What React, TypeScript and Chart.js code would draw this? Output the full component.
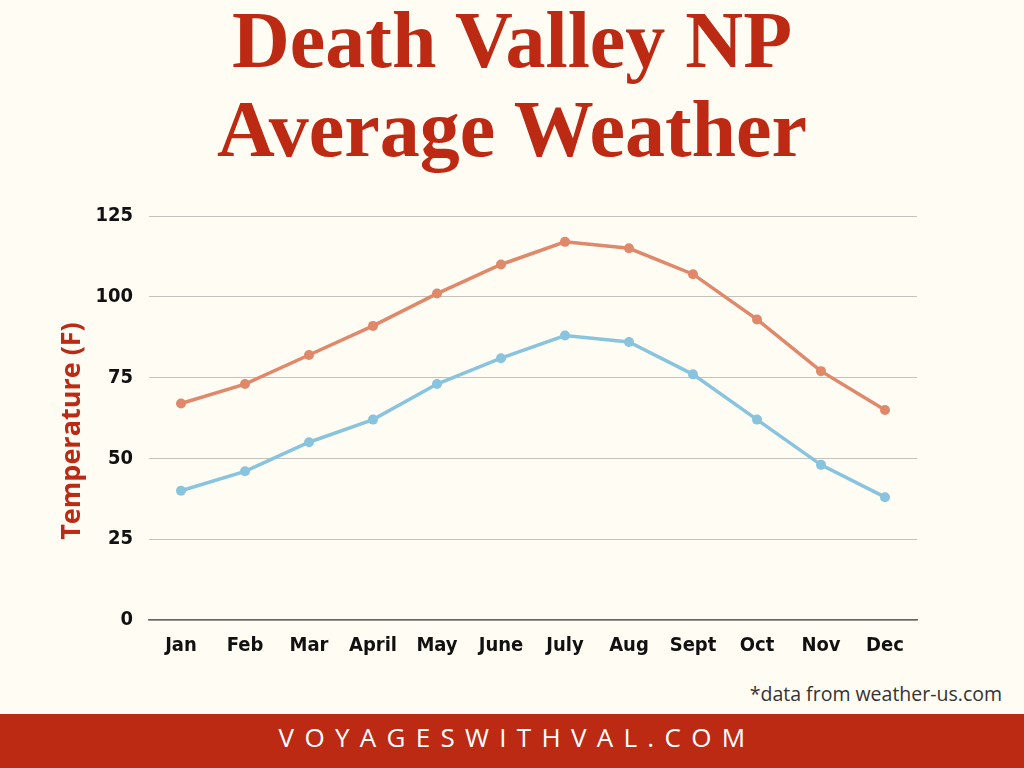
import React, { useEffect, useRef } from "react";
import { Chart, registerables } from "chart.js";

Chart.register(...registerables);

const months = ["Jan", "Feb", "Mar", "April", "May", "June", "July", "Aug", "Sept", "Oct", "Nov", "Dec"];
const highTemps = [67, 73, 82, 91, 101, 110, 117, 115, 107, 93, 77, 65];
const lowTemps = [40, 46, 55, 62, 73, 81, 88, 86, 76, 62, 48, 38];
const yTicks = [0, 25, 50, 75, 100, 125];

const BG = "#fffcf4";
const RED = "#bd2a13";
const HIGH = "#e0886a";
const LOW = "#89c4de";

const CANVAS_TOP = 188;
const CANVAS_H = 482;
const TICK_FONT = "'Liberation Sans Narrow', 'DejaVu Sans Condensed', sans-serif";

export default function App() {
  const ref = useRef<HTMLCanvasElement | null>(null);

  useEffect(() => {
    if (!ref.current) return;
    const chart = new Chart(ref.current, {
      type: "line",
      data: {
        labels: months,
        datasets: [
          {
            label: "High",
            data: highTemps,
            borderColor: HIGH,
            backgroundColor: HIGH,
            borderWidth: 3.5,
            pointRadius: 5,
            pointHoverRadius: 5,
            pointBorderWidth: 0,
            tension: 0,
          },
          {
            label: "Low",
            data: lowTemps,
            borderColor: LOW,
            backgroundColor: LOW,
            borderWidth: 3.5,
            pointRadius: 5,
            pointHoverRadius: 5,
            pointBorderWidth: 0,
            tension: 0,
          },
        ],
      },
      options: {
        animation: false,
        responsive: false,
        maintainAspectRatio: false,
        layout: { padding: { top: 22, right: 107, left: 0, bottom: 0 } },
        plugins: {
          legend: { display: false },
          tooltip: { enabled: false },
          title: { display: false },
        },
        scales: {
          x: {
            offset: true,
            grid: { display: false, drawTicks: false },
            border: { display: true, color: "#666666", width: 1.5 },
            ticks: {
              color: "#111111",
              padding: 14,
              font: { family: TICK_FONT, size: 20, weight: "bold" },
            },
            afterFit: (scale: any) => {
              scale.height = 50;
            },
          },
          y: {
            min: 0,
            max: 125,
            afterBuildTicks: (scale: any) => {
              scale.ticks = yTicks.map((v) => ({ value: v }));
            },
            grid: { color: "#c4c2bc", lineWidth: 1, drawTicks: false },
            border: { display: false },
            ticks: {
              color: "#111111",
              padding: 16,
              font: { family: TICK_FONT, size: 20, weight: "bold" },
            },
            afterFit: (scale: any) => {
              scale.width = 149;
            },
          },
        },
      },
    });
    return () => chart.destroy();
  }, []);

  return (
    <div
      style={{
        position: "absolute",
        left: 0,
        top: 0,
        width: 1024,
        height: 768,
        background: BG,
        overflow: "hidden",
      }}
    >
      <div
        style={{
          position: "absolute",
          left: 0,
          width: 1024,
          top: -4,
          textAlign: "center",
          color: RED,
          fontFamily: "'Liberation Serif', 'DejaVu Serif', serif",
          fontWeight: "bold",
          fontSize: 80,
          lineHeight: "89px",
        }}
      >
        <div>Death Valley NP</div>
        <div>Average Weather</div>
      </div>
      <canvas
        ref={ref}
        width={1024}
        height={CANVAS_H}
        style={{ position: "absolute", left: 0, top: CANVAS_TOP, width: 1024, height: CANVAS_H }}
      />
      <div
        style={{
          position: "absolute",
          left: 70 - 150,
          top: 431 - 18,
          width: 300,
          height: 36,
          lineHeight: "36px",
          textAlign: "center",
          transform: "rotate(-90deg)",
          transformOrigin: "50% 50%",
          color: RED,
          fontFamily: "'Open Sans', sans-serif",
          fontWeight: "bold",
          fontSize: 27,
          whiteSpace: "nowrap",
        }}
      >
        Temperature (F)
      </div>
      <div
        style={{
          position: "absolute",
          right: 22,
          top: 681,
          fontFamily: "'Open Sans', sans-serif",
          fontSize: 19.5,
          color: "#333333",
          lineHeight: "26px",
        }}
      >
        *data from weather-us.com
      </div>
      <div
        style={{
          position: "absolute",
          left: 0,
          top: 714,
          width: 1024,
          height: 54,
          background: RED,
          color: "#ffffff",
          textAlign: "center",
          fontFamily: "'Open Sans', sans-serif",
          fontSize: 26,
          letterSpacing: 10.3,
          lineHeight: "46px",
          paddingLeft: 10,
          boxSizing: "border-box",
        }}
      >
        VOYAGESWITHVAL.COM
      </div>
    </div>
  );
}
